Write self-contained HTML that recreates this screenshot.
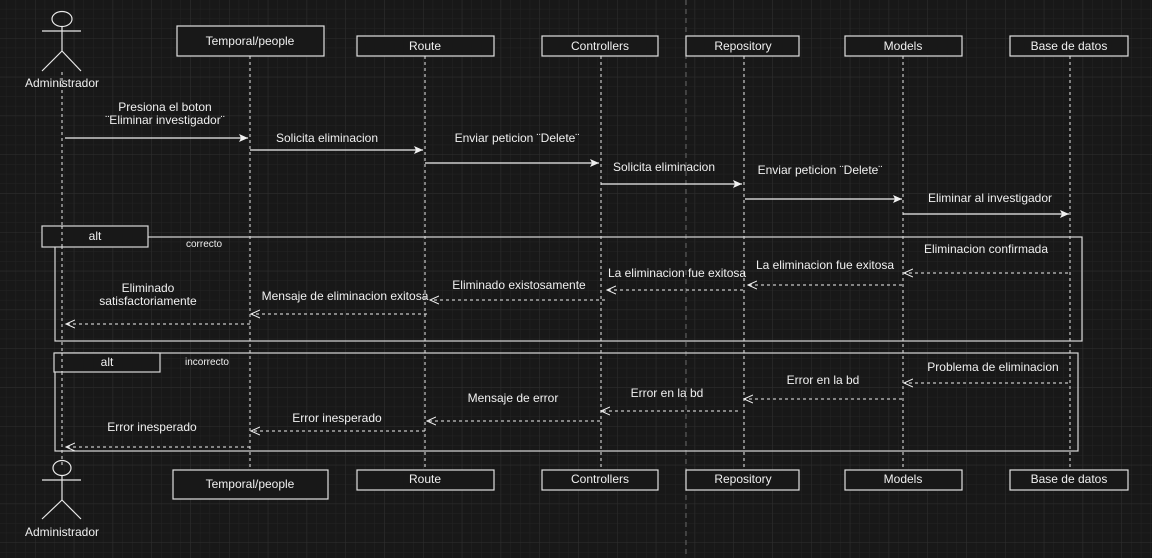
<!DOCTYPE html>
<html><head><meta charset="utf-8"><style>
html,body{margin:0;padding:0;background:#181818;}
svg{display:block;}
text{font-family:"Liberation Sans",sans-serif;font-size:12px;fill:#f0f0f0;}
</style></head><body>
<svg width="1152" height="558" xmlns="http://www.w3.org/2000/svg">
<defs>
<pattern id="minor" x="35" y="38" width="9.7" height="9.7" patternUnits="userSpaceOnUse">
<path d="M0 0H9.7M0 0V9.7" stroke="#242424" stroke-width="1" fill="none"/>
</pattern>
<pattern id="major" x="35" y="38" width="38.8" height="38.8" patternUnits="userSpaceOnUse">
<path d="M0 0H38.8M0 0V38.8" stroke="#2e2e2e" stroke-width="1" fill="none"/>
</pattern>
<marker id="a" markerWidth="10" markerHeight="10" refX="9" refY="5" orient="auto" markerUnits="userSpaceOnUse">
<path d="M0,1 L9,5 L0,9 L2,5 Z" fill="#f0f0f0"/>
</marker>
<marker id="o" markerWidth="10" markerHeight="10" refX="9" refY="5" orient="auto" markerUnits="userSpaceOnUse">
<path d="M0,1 L9,5 L0,9" fill="none" stroke="#f0f0f0" stroke-width="1"/>
</marker>
</defs>
<rect width="1152" height="558" fill="#181818"/>
<rect width="1152" height="558" fill="url(#minor)"/>
<rect width="1152" height="558" fill="url(#major)"/>
<line x1="686" y1="0" x2="686" y2="558" stroke="#666" stroke-dasharray="5,4"/>

<g stroke="#e8e8e8" stroke-dasharray="3,3" stroke-width="1">
<line x1="62" y1="72" x2="62" y2="466"/>
<line x1="250" y1="56" x2="250" y2="469"/>
<line x1="425" y1="56" x2="425" y2="469"/>
<line x1="601" y1="56" x2="601" y2="469"/>
<line x1="744" y1="56" x2="744" y2="469"/>
<line x1="903" y1="56" x2="903" y2="469"/>
<line x1="1070" y1="56" x2="1070" y2="469"/>
</g>

<g fill="#181818" stroke="#e0e0e0" stroke-width="1.2">
<rect x="177" y="26" width="147" height="30"/>
<rect x="357" y="36" width="137" height="20"/>
<rect x="542" y="36" width="116" height="20"/>
<rect x="686" y="36" width="113" height="20"/>
<rect x="845" y="36" width="117" height="20"/>
<rect x="1010" y="36" width="118" height="20"/>
<rect x="173" y="470" width="155" height="29"/>
<rect x="357" y="470" width="137" height="20"/>
<rect x="542" y="470" width="116" height="20"/>
<rect x="686" y="470" width="113" height="20"/>
<rect x="845" y="470" width="117" height="20"/>
<rect x="1010" y="470" width="118" height="20"/>
</g>
<g text-anchor="middle">
<text x="250" y="45">Temporal/people</text>
<text x="425" y="50">Route</text>
<text x="600" y="50">Controllers</text>
<text x="743" y="50">Repository</text>
<text x="903" y="50">Models</text>
<text x="1069" y="50">Base de datos</text>
<text x="250" y="488">Temporal/people</text>
<text x="425" y="483">Route</text>
<text x="600" y="483">Controllers</text>
<text x="743" y="483">Repository</text>
<text x="903" y="483">Models</text>
<text x="1069" y="483">Base de datos</text>
<text x="62" y="87">Administrador</text>
<text x="62" y="536">Administrador</text>
</g>

<g stroke="#e8e8e8" stroke-width="1.2" fill="none">
<ellipse cx="62" cy="19" rx="10" ry="7.5"/>
<path d="M62 26V51M42 31H81M62 51L42 71M62 51L81 71"/>
<ellipse cx="62" cy="468" rx="9" ry="7.5"/>
<path d="M62 475.5V500M42 480H81M62 500L42 519M62 500L81 519"/>
</g>

<!-- alt frames -->
<g stroke="#d8d8d8" stroke-width="1.2" fill="none">
<rect x="55" y="237" width="1027" height="104"/>
<rect x="55" y="353" width="1023" height="98"/>
</g>
<g fill="#181818" stroke="#d8d8d8" stroke-width="1.2">
<rect x="42" y="226" width="106" height="21"/>
<rect x="54" y="353" width="106" height="19"/>
</g>
<line x1="62" y1="226" x2="62" y2="247" stroke="#e8e8e8" stroke-dasharray="3,3"/>
<line x1="62" y1="353" x2="62" y2="372" stroke="#e8e8e8" stroke-dasharray="3,3"/>
<text x="95" y="240" text-anchor="middle">alt</text>
<text x="107" y="366" text-anchor="middle">alt</text>
<text x="186" y="247" style="font-size:10px">correcto</text>
<text x="185" y="365" style="font-size:10px">incorrecto</text>

<!-- sync messages -->
<g stroke="#f0f0f0" stroke-width="1.2" marker-end="url(#a)">
<line x1="65" y1="138" x2="248" y2="138"/>
<line x1="250" y1="150" x2="423" y2="150"/>
<line x1="425" y1="163" x2="599" y2="163"/>
<line x1="601" y1="184" x2="742" y2="184"/>
<line x1="745" y1="199" x2="902" y2="199"/>
<line x1="903" y1="214" x2="1069" y2="214"/>
</g>
<g text-anchor="middle">
<text x="165" y="111">Presiona el boton</text>
<text x="165" y="124">¨Eliminar investigador¨</text>
<text x="327" y="142">Solicita eliminacion</text>
<text x="517" y="142">Enviar peticion ¨Delete¨</text>
<text x="664" y="171">Solicita eliminacion</text>
<text x="820" y="174">Enviar peticion ¨Delete¨</text>
<text x="990" y="202">Eliminar al investigador</text>
</g>

<!-- returns -->
<g stroke="#f0f0f0" stroke-width="1" stroke-dasharray="3,3" marker-end="url(#o)">
<line x1="1068" y1="273" x2="904" y2="273"/>
<line x1="902" y1="285" x2="748" y2="285"/>
<line x1="743" y1="290" x2="607" y2="290"/>
<line x1="605" y1="300" x2="430" y2="300"/>
<line x1="427" y1="314" x2="251" y2="314"/>
<line x1="250" y1="324" x2="66" y2="324"/>
<line x1="1068" y1="383" x2="904" y2="383"/>
<line x1="902" y1="399" x2="744" y2="399"/>
<line x1="738" y1="411" x2="601" y2="411"/>
<line x1="600" y1="421" x2="427" y2="421"/>
<line x1="425" y1="431" x2="251" y2="431"/>
<line x1="250" y1="447" x2="66" y2="447"/>
</g>
<g text-anchor="middle">
<text x="986" y="253">Eliminacion confirmada</text>
<text x="825" y="269">La eliminacion fue exitosa</text>
<text x="677" y="277">La eliminacion fue exitosa</text>
<text x="519" y="289">Eliminado existosamente</text>
<text x="345" y="300">Mensaje de eliminacion exitosa</text>
<text x="148" y="292">Eliminado</text>
<text x="148" y="305">satisfactoriamente</text>
<text x="993" y="371">Problema de eliminacion</text>
<text x="823" y="384">Error en la bd</text>
<text x="667" y="397">Error en la bd</text>
<text x="513" y="402">Mensaje de error</text>
<text x="337" y="422">Error inesperado</text>
<text x="152" y="431">Error inesperado</text>
</g>
</svg>
</body></html>
